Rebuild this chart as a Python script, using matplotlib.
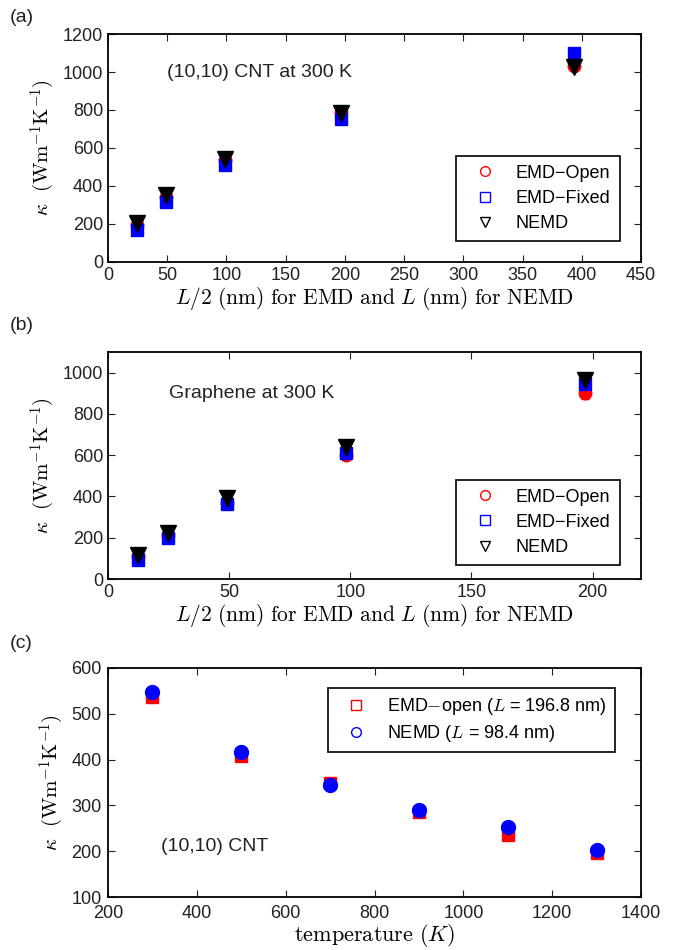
import matplotlib
matplotlib.use("Agg")
import matplotlib.pyplot as plt
from matplotlib.lines import Line2D

plt.rcParams['font.family'] = ['Liberation Sans', 'DejaVu Sans']
plt.rcParams['mathtext.fontset'] = 'cm'
plt.rcParams['font.size'] = 12

# ---------------- data ----------------
# Panel (a): (10,10) CNT at 300 K
a_x = [24.6, 49.2, 98.4, 196.8, 393.6]
a_open = [196, 340, 535, 787, 1030]
a_fixed = [170, 314, 512, 752, 1100]
a_nemd = [205, 352, 542, 782, 1024]
a_open_err = [10, 10, 10, 12, 15]
a_fixed_err = [10, 10, 10, 12, 20]

# Panel (b): Graphene at 300 K
b_x = [12.3, 24.6, 49.2, 98.4, 196.8]
b_open = [112, 214, 367, 600, 899]
b_fixed = [93, 198, 362, 612, 947]
b_nemd = [117, 225, 391, 641, 963]
b_open_err = [8, 8, 10, 12, 27]
b_fixed_err = [8, 8, 10, 12, 15]

# Panel (c): (10,10) CNT vs temperature
c_T = [300, 500, 700, 900, 1100, 1300]
c_emd = [536, 408, 350, 286, 235, 195]
c_nemd = [547, 417, 345, 290, 253, 202]
c_emd_err = [5, 5, 5, 5, 6, 5]
c_nemd_err = [5, 5, 5, 5, 5, 5]

xlabel_ab = r'$L/2\ \mathrm{(nm)\ for\ EMD\ and}\ L\ \mathrm{(nm)\ for\ NEMD}$'
ylabel = r'$\kappa\ \ (\mathrm{Wm}^{-1}\mathrm{K}^{-1})$'

fig = plt.figure(figsize=(6.83, 9.5), dpi=100)
W, H = 683, 950

def add_axes(l, r, t, b):
    return fig.add_axes([l / W, 1 - b / H, (r - l) / W, (b - t) / H])

axa = add_axes(108, 641, 34, 262)
axb = add_axes(108, 641, 352, 579)
axc = add_axes(108, 641, 668, 897)

def style(ax):
    ax.tick_params(direction='in', top=True, right=True, length=5, width=0.8,
                   labelsize=13, colors='#222222', labelcolor='#222222')
    for s in ax.spines.values():
        s.set_linewidth(1.3)

def draw_eq(ax, x, opn, fix, nemd, oerr, ferr):
    ax.errorbar(x, opn, yerr=oerr, fmt='o', color='red', mfc='red', mec='red',
                ms=9, capsize=3, elinewidth=1.5, zorder=3)
    ax.errorbar(x, fix, yerr=ferr, fmt='s', color='blue', mfc='blue', mec='blue',
                ms=8.5, capsize=3, elinewidth=1.5, zorder=4)
    ax.plot(x, nemd, 'v', color='black', ms=11, zorder=5)
    handles = [
        Line2D([], [], ls='none', marker='o', mfc='none', mec='red', ms=7, label='EMD\u2212Open'),
        Line2D([], [], ls='none', marker='s', mfc='none', mec='blue', ms=6.5, label='EMD\u2212Fixed'),
        Line2D([], [], ls='none', marker='v', mfc='none', mec='black', ms=7, label='NEMD'),
    ]
    return handles

leg_kw = dict(fancybox=False, edgecolor='black', fontsize=13, handletextpad=0.6,
              borderpad=0.5, labelspacing=0.45, handlelength=2.2, framealpha=1,
              borderaxespad=0)

# ---- (a)
h = draw_eq(axa, a_x, a_open, a_fixed, a_nemd, a_open_err, a_fixed_err)
axa.set_xlim(0, 450)
axa.set_ylim(0, 1200)
axa.set_xticks(range(0, 451, 50))
axa.set_yticks(range(0, 1201, 200))
style(axa)
axa.set_xlabel(xlabel_ab, fontsize=15.5, labelpad=1)
axa.set_ylabel(ylabel, fontsize=15)
axa.text(50, 1000, '(10,10) CNT at 300 K', fontsize=14, va='center', color='#222222')
axa.legend(handles=h, loc='lower right', bbox_to_anchor=(0.96, 0.092),
           **leg_kw).get_frame().set_linewidth(1.2)
fig.text(10 / W, 1 - 18 / H, '(a)', fontsize=14, va='center', color='#222222')

# ---- (b)
h = draw_eq(axb, b_x, b_open, b_fixed, b_nemd, b_open_err, b_fixed_err)
axb.set_xlim(0, 220)
axb.set_ylim(0, 1100)
axb.set_xticks([0, 50, 100, 150, 200])
axb.set_yticks(range(0, 1001, 200))
style(axb)
axb.set_xlabel(xlabel_ab, fontsize=15.5, labelpad=1)
axb.set_ylabel(ylabel, fontsize=15)
axb.text(25, 899, 'Graphene at 300 K', fontsize=14, va='center', color='#222222')
axb.legend(handles=h, loc='lower right', bbox_to_anchor=(0.96, 0.062),
           **leg_kw).get_frame().set_linewidth(1.2)
fig.text(10 / W, 1 - 325 / H, '(b)', fontsize=14, va='center', color='#222222')

# ---- (c)
axc.errorbar(c_T, c_emd, yerr=c_emd_err, fmt='s', color='red', mfc='red', mec='red',
             ms=9, capsize=3, elinewidth=1.5, zorder=3)
axc.errorbar(c_T, c_nemd, yerr=c_nemd_err, fmt='o', color='blue', mfc='blue', mec='blue',
             ms=10, capsize=3, elinewidth=1.5, zorder=4)
axc.set_xlim(200, 1400)
axc.set_ylim(100, 600)
axc.set_xticks(range(200, 1401, 200))
axc.set_yticks(range(100, 601, 100))
style(axc)
axc.tick_params(axis='x', pad=6)
axc.tick_params(axis='y', pad=4.5)
axc.set_xlabel(r'$\mathrm{temperature}\ (K)$', fontsize=16, labelpad=0)
axc.set_ylabel(ylabel, fontsize=15)
axc.text(320, 210, '(10,10) CNT', fontsize=14, va='center', color='#222222')
hc = [
    Line2D([], [], ls='none', marker='s', mfc='none', mec='red', ms=6.5,
           label=r'EMD$-$open ($L$ = 196.8 nm)'),
    Line2D([], [], ls='none', marker='o', mfc='none', mec='blue', ms=7,
           label=r'NEMD ($L$ = 98.4 nm)'),
]
kw_c = dict(leg_kw)
kw_c.update(borderpad=0.45, labelspacing=0.35)
axc.legend(handles=hc, loc='upper right', bbox_to_anchor=(0.951, 0.913),
           **kw_c).get_frame().set_linewidth(1.2)
fig.text(10 / W, 1 - 643 / H, '(c)', fontsize=14, va='center', color='#222222')

fig.savefig('out.png', dpi=100)
